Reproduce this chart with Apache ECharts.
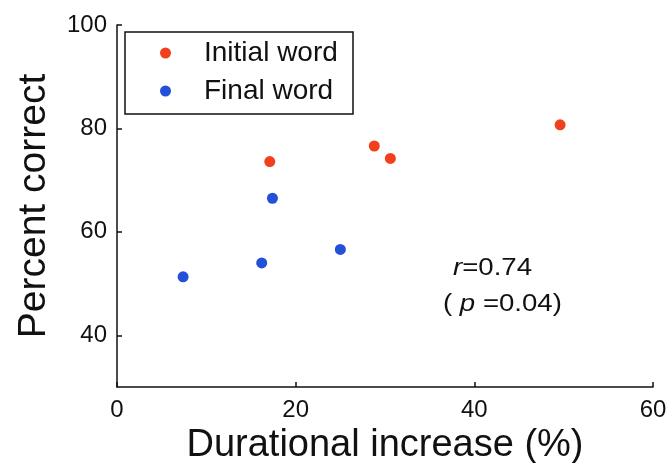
<!DOCTYPE html>
<html>
<head>
<meta charset="utf-8">
<script src="https://cdn.jsdelivr.net/npm/echarts@6/dist/echarts.min.js"></script>
<style>
  html, body { margin: 0; padding: 0; background: #fff; }
  #chart { width: 668px; height: 463px; }
</style>
</head>
<body>
<div id="chart"></div>
<script>
// Durational increase (%) vs. percent correct
const initialWord = [[17.1, 73.6], [28.8, 76.6], [30.6, 74.2], [49.6, 80.7]];
const finalWord = [[7.4, 51.3], [16.2, 54.0], [17.4, 66.5], [25.0, 56.6]];
const xTicks = [0, 20, 40, 60];
const yTicks = [40, 60, 80, 100];
const seriesNames = ['Initial word', 'Final word'];

const FONT = '"Liberation Sans", Arial, Helvetica, sans-serif';
const INK = '#111';
const chart = echarts.init(document.getElementById('chart'), null, { renderer: 'canvas' });

const axisLine = { show: true, lineStyle: { color: INK, width: 1.5 } };
const tickStyle = { color: INK, width: 1.5 };

chart.setOption({
  animation: false,
  backgroundColor: '#fff',
  grid: { left: 117, right: 15, top: 25, bottom: 76, outerBoundsMode: 'none' },
  legend: {
    left: 125, top: 32,
    orient: 'vertical',
    data: seriesNames,
    borderColor: INK, borderWidth: 1.5, borderRadius: 0,
    padding: [7, 8, 9, 35],
    itemGap: 10,
    itemWidth: 11, itemHeight: 11,
    textStyle: {
      fontFamily: FONT, fontSize: 28, color: INK, lineHeight: 28,
      width: 141, padding: [0, 0, 0, 28]
    }
  },
  xAxis: {
    type: 'value', min: 0, max: 60, interval: 20,
    name: 'Durational increase (%)', nameLocation: 'middle', nameGap: 35,
    nameTextStyle: { fontFamily: FONT, fontSize: 38, color: INK },
    axisLine,
    axisTick: { show: true, inside: true, length: 5, lineStyle: tickStyle, customValues: xTicks },
    splitLine: { show: false },
    axisLabel: { fontFamily: FONT, fontSize: 24, color: INK, margin: 11, customValues: xTicks }
  },
  yAxis: {
    type: 'value', min: 30, max: 100,
    name: 'Percent correct', nameLocation: 'middle', nameGap: 63,
    nameTextStyle: { fontFamily: FONT, fontSize: 39, color: INK },
    axisLine,
    axisTick: { show: true, inside: true, length: 5, lineStyle: tickStyle, customValues: yTicks },
    splitLine: { show: false },
    axisLabel: { fontFamily: FONT, fontSize: 24, color: INK, margin: 10, customValues: yTicks }
  },
  series: [
    {
      name: seriesNames[0], type: 'scatter', data: initialWord,
      symbol: 'circle', symbolSize: 11,
      itemStyle: { color: '#f0401c', opacity: 1 }
    },
    {
      name: seriesNames[1], type: 'scatter', data: finalWord,
      symbol: 'circle', symbolSize: 11,
      itemStyle: { color: '#2250d8', opacity: 1 }
    }
  ],
  graphic: [
    {
      type: 'text', x: 453, y: 257, scaleX: 1.2,
      style: {
        text: '{i|r}=0.74',
        fontFamily: FONT, fontSize: 23, fill: INK,
        rich: { i: { fontStyle: 'italic', fontFamily: FONT, fontSize: 23, fill: INK } }
      }
    },
    {
      type: 'text', x: 443, y: 293, scaleX: 1.2,
      style: {
        text: '( {i|p} =0.04)',
        fontFamily: FONT, fontSize: 23, fill: INK,
        rich: { i: { fontStyle: 'italic', fontFamily: FONT, fontSize: 23, fill: INK } }
      }
    }
  ]
});
</script>
</body>
</html>
